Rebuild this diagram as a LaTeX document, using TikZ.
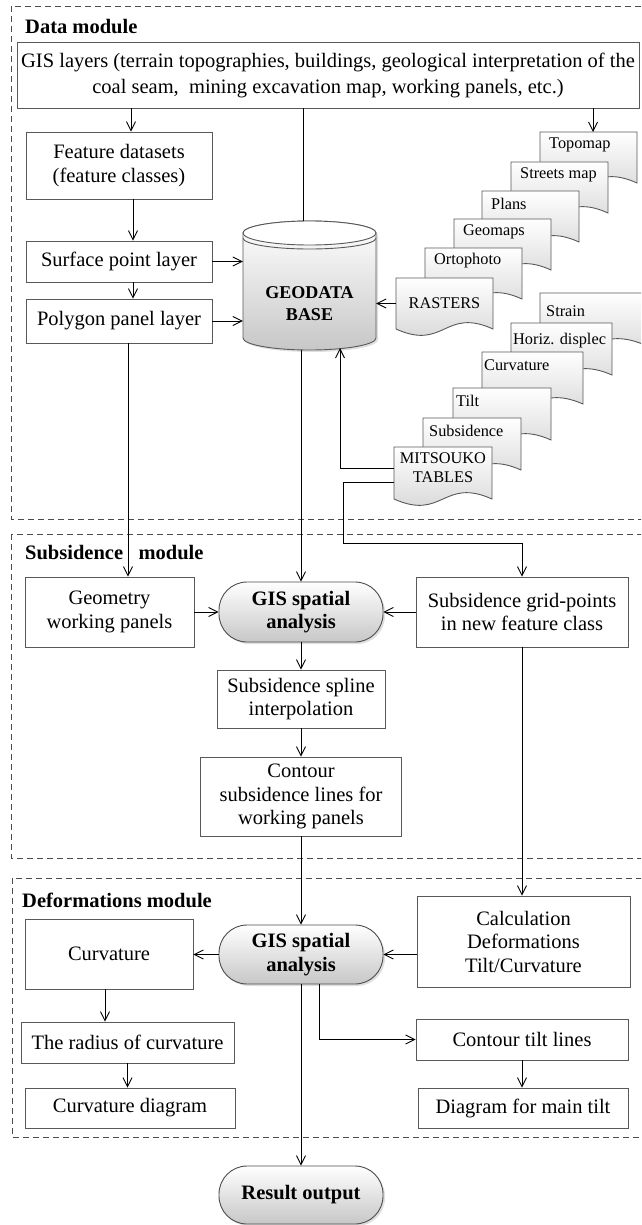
\documentclass[tikz,border=0pt]{standalone}
\usepackage{fontspec}
\setmainfont{Liberation Serif}
\usetikzlibrary{arrows.meta,positioning,shadows}

\tikzset{
  procbox/.style={draw=black!65, line width=0.9pt, fill=white, align=center, inner sep=2pt, font=\fontsize{20.5}{23.5}\selectfont},
  gisbox/.style={draw=black!70, line width=0.9pt, rounded corners=28pt, top color=white, bottom color=black!22, drop shadow={opacity=0.25,shadow xshift=2pt,shadow yshift=-2pt}, align=center, font=\fontsize{20.5}{23.5}\selectfont\bfseries},
  docfill/.style={draw=black!65, line width=0.9pt, top color=white, bottom color=black!18},
  doclabel/.style={anchor=west, inner sep=0pt, font=\fontsize{16.3}{19}\selectfont},
  modframe/.style={draw=black!70, line width=0.9pt, dash pattern=on 6pt off 4pt},
  modlabel/.style={anchor=west, inner sep=0pt, font=\fontsize{20.5}{23.5}\selectfont\bfseries},
  arr/.style={-{Straight Barb[length=9pt,width=9pt]}, line width=0.9pt},
  link/.style={line width=0.9pt}
}

% document sheet with a wavy bottom: x, y, width, height
\newcommand{\docsheet}[4]{%
  \pgfmathsetmacro{\docR}{#1+#3}%
  \pgfmathsetmacro{\docB}{#2+#4}%
  \pgfmathsetmacro{\docM}{#1+0.5*#3}%
  \path[docfill] (#1,#2) -- (\docR,#2) -- (\docR,\docB) .. controls (\docM,\docB-22) and (\docM,\docB+22) .. (#1,\docB) -- cycle;}

\begin{document}
\begin{tikzpicture}[x=1pt,y=1pt,yscale=-1,xscale=1]
\useasboundingbox (0,0) rectangle (641,1225);
\clip (0,0) rectangle (641,1225);

%Shape: Module frames
\draw[modframe] (11,6) rectangle (643,519);
\draw[modframe] (11,534) rectangle (643,858);
\draw[modframe] (12,878) rectangle (643,1137);
\node[modlabel] (datalbl) at (25,27) {Data module};
\node[modlabel] (subslbl) at (25,553) {Subsidence\ \ \ module};
\node[modlabel] (deflbl) at (22,900) {Deformations module};

%Shape: Data module boxes
\node[procbox, minimum width=622pt, minimum height=66pt, font=\fontsize{20.5}{26}\selectfont] (gis) at (328,75) {GIS layers (terrain topographies, buildings, geological interpretation of the\\coal seam,\ \ mining excavation map, working panels, etc.)};
\node[procbox, minimum width=186pt, minimum height=67pt] (feat) at (119,165.5) {Feature datasets\\(feature classes)};
\node[procbox, minimum width=186pt, minimum height=41pt] (surf) at (119,261.5) {Surface point layer};
\node[procbox, minimum width=186pt, minimum height=44pt] (poly) at (119,321) {Polygon panel layer};

%Shape: Can
\path[draw=black!65, line width=0.9pt, top color=white, bottom color=black!22, drop shadow={opacity=0.25,shadow xshift=2pt,shadow yshift=-2pt}] (243,233) -- (243,338) arc[start angle=180, end angle=0, x radius=66.5, y radius=12] -- (376,233) arc[start angle=0, end angle=-180, x radius=66.5, y radius=12] -- cycle;
\draw[draw=black!65, line width=0.9pt, fill=white] (309.5,233) ellipse[x radius=66.5, y radius=12];
\draw[draw=black!65, line width=0.9pt] (243,238) arc[start angle=180, end angle=0, x radius=66.5, y radius=11];
\node[font=\fontsize{18}{22}\selectfont\bfseries, align=center, minimum width=133pt, inner sep=0pt] (geo) at (309.5,304) {GEODATA\\BASE};
\coordinate (geotop) at (303,221);
\coordinate (geobot) at (301,350);
\coordinate (geofoot) at (340,348);

%Shape: Raster documents
\foreach \dx/\dy/\dlab [count=\i] in {540/132/Topomap, 511/162/Streets map, 482/191/Plans, 454/219/Geomaps, 425/248/Ortophoto}{
  \docsheet{\dx}{\dy}{97}{51}
  \node[doclabel] (map\i) at (\dx+9,\dy+13) {\dlab};
}
\docsheet{396}{278}{97}{51}
\node[doclabel, anchor=center, minimum width=97pt, minimum height=51pt] (rasters) at (444.5,303.5) {RASTERS};
\coordinate (topo) at (593,132);

%Shape: Table documents
\foreach \dx/\dy/\dw/\tx/\ty/\dlab [count=\i] in {540/293/105/6/18/Strain, 511/323/101/2/18/Horiz. displec, 482/352/101/2/13/Curvature, 453/388/98/3/13/Tilt, 423/418/98/6/13/Subsidence}{
  \docsheet{\dx}{\dy}{\dw}{52}
  \node[doclabel] (tab\i) at (\dx+\tx,\dy+\ty) {\dlab};
}
\docsheet{394}{447}{98}{52}
\node[doclabel, anchor=center, align=center, minimum width=98pt, minimum height=44pt] (mits) at (443,468) {MITSOUKO\\TABLES};
\coordinate (bend) at (343,543);

%Shape: Subsidence module boxes
\node[procbox, minimum width=169pt, minimum height=70pt] (geom) at (109.5,612) {Geometry\\working panels};
\node[gisbox, minimum width=164pt, minimum height=60pt] (gsa1) at (301,612) {GIS spatial\\analysis};
\node[procbox, minimum width=212pt, minimum height=70pt] (grid) at (522,612) {Subsidence grid-points\\in new feature class};
\node[procbox, minimum width=168pt, minimum height=58pt] (spline) at (301,699) {Subsidence spline\\interpolation};
\node[procbox, minimum width=201pt, minimum height=79pt] (contour) at (301,796.5) {Contour\\subsidence lines for\\working panels};

%Shape: Deformations module boxes
\node[gisbox, minimum width=164pt, minimum height=59pt] (gsa2) at (301,954.5) {GIS spatial\\analysis};
\node[procbox, minimum width=213pt, minimum height=91pt] (calc) at (523.5,941.5) {Calculation\\Deformations\\Tilt/Curvature};
\node[procbox, minimum width=168pt, minimum height=70pt] (curv) at (109,954) {Curvature};
\node[procbox, minimum width=213pt, minimum height=41pt] (radius) at (127.5,1042.5) {The radius of curvature};
\node[procbox, minimum width=210pt, minimum height=40pt] (curvdiag) at (130,1108) {Curvature diagram};
\node[procbox, minimum width=212pt, minimum height=41pt] (tiltlines) at (522,1039.5) {Contour tilt lines};
\node[procbox, minimum width=210pt, minimum height=40pt] (tiltdiag) at (523,1108) {Diagram for main tilt};
\node[gisbox, minimum width=164pt, minimum height=58pt] (result) at (301,1195) {Result output};

%Straight Lines
\draw[arr] (gis.south -| topo) -- (topo);
\draw[link] (gis.south -| geotop) -- (geotop);
\draw[arr] ([xshift=12pt]feat.north |- gis.south) -- ([xshift=12pt]feat.north);
\draw[arr] ([xshift=14pt]feat.south) -- ([xshift=14pt]surf.north);
\draw[arr] ([xshift=14pt]surf.south) -- ([xshift=14pt]poly.north);
\draw[arr] (surf.east) -- (surf.east -| geo.west);
\draw[arr] (poly.east) -- (poly.east -| geo.west);
\draw[arr] (rasters.west) -- (rasters.west -| geo.east);
\draw[arr] (mits.west) -| (geofoot);
\draw[arr] ([yshift=14pt]mits.west) -| (bend) -| (grid.north);
\draw[arr] ([xshift=9pt]poly.south) -- ([xshift=9pt]poly.south |- geom.north);
\draw[arr] (geobot) -- (geobot |- gsa1.north);
\draw[arr] (geom.east) -- (gsa1.west);
\draw[arr] (grid.west) -- (gsa1.east);
\draw[arr] (gsa1.south) -- (spline.north);
\draw[arr] (spline.south) -- (contour.north);
\draw[arr] (contour.south) -- (gsa2.north);
\draw[arr] (grid.south) -- (grid.south |- calc.north);
\draw[arr] (calc.west |- gsa2.east) -- (gsa2.east);
\draw[arr] (gsa2.west) -- (gsa2.west -| curv.east);
\draw[arr] ([xshift=-4pt]curv.south) -- ([xshift=-4pt]curv.south |- radius.north);
\draw[arr] (radius.south) -- (radius.south |- curvdiag.north);
\draw[arr] ([xshift=18pt]gsa2.south) |- (tiltlines.west);
\draw[arr] (tiltlines.south) -- (tiltlines.south |- tiltdiag.north);
\draw[arr] (gsa2.south) -- (result.north);

\end{tikzpicture}
\end{document}
